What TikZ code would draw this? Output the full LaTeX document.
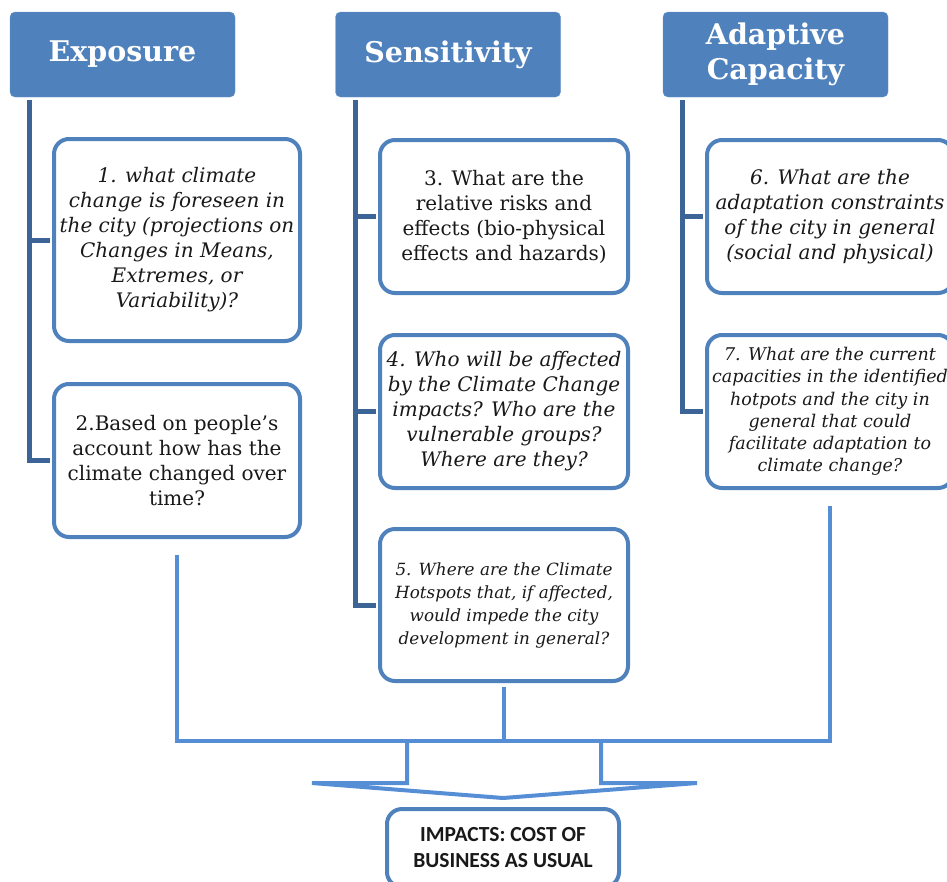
\documentclass[tikz,border=0pt]{standalone}
\usepackage{fontspec}
\setmainfont{DejaVu Serif}
\newfontfamily\impactfont{Carlito}
\usetikzlibrary{calc}
\definecolor{headblue}{RGB}{79,129,189}
\definecolor{trunkblue}{RGB}{60,100,150}
\definecolor{feedblue}{RGB}{85,142,213}

\begin{document}
\begin{tikzpicture}[x=1pt, y=-1pt,
    head/.style={rectangle, rounded corners=5pt, fill=headblue, draw=headblue!85!white, minimum width=225pt, minimum height=85pt, inner sep=0pt, align=center, text=white, font=\fontsize{28.5}{35}\selectfont\bfseries},
    quest/.style={rectangle, rounded corners=15pt, draw=headblue, line width=4pt, fill=white, minimum width=246pt, minimum height=153pt, inner sep=0pt, align=center, text=black!90, font=\fontsize{20}{25}\selectfont},
    trunk/.style={draw=trunkblue, line width=5pt, shorten >=2pt},
    feed/.style={draw=feedblue, line width=4pt}]
  \useasboundingbox (0,0) rectangle (947,881);

  % Headers
  \node[head] at (122.5, 54.5) (expo) {Exposure};
  \node[head] at (448, 54.5) (sens) {Sensitivity};
  \node[head] at (775.5, 54.5) (adapt) {Adaptive\\Capacity};

  % Questions
  \node[quest, minimum height=202pt, font=\fontsize{20}{25}\selectfont\itshape] at (177, 240) (q1) {1. what climate\\change is foreseen in\\the city (projections on\\Changes in Means,\\Extremes, or\\Variability)?};
  \node[quest] at (177, 460.5) (q2) {2.Based on people's\\account how has the\\climate changed over\\time?};
  \node[quest, minimum width=248pt] at (504, 216.5) (q3) {3. What are the\\relative risks and\\effects (bio-physical\\effects and hazards)};
  \node[quest, minimum width=248pt, font=\fontsize{20}{25}\selectfont\itshape] at (504, 411.5) (q4) {4. Who will be affected\\by the Climate Change\\impacts? Who are the\\vulnerable groups?\\Where are they?};
  \node[quest, minimum width=248pt, minimum height=152pt, font=\fontsize{16.8}{23}\selectfont\itshape] at (504, 605) (q5) {5. Where are the Climate\\Hotspots that, if affected,\\would impede the city\\development in general?};
  \node[quest, font=\fontsize{20}{25}\selectfont\itshape] at (830, 216.5) (q6) {6. What are the\\adaptation constraints\\of the city in general\\(social and physical)};
  \node[quest, font=\fontsize{17.5}{22.2}\selectfont\itshape] at (830, 411.5) (q7) {7. What are the current\\capacities in the identified\\hotpots and the city in\\general that could\\facilitate adaptation to\\climate change?};

  \node[quest, minimum width=232pt, minimum height=78pt, font=\impactfont\fontsize{21.5}{26}\selectfont\bfseries] at (503, 848) (impact) {IMPACTS: COST OF\\BUSINESS AS USUAL};

  % Trunks
  \draw[trunk] ($(expo.south west)+(20,3)$) |- (q1.west);
  \draw[trunk] ($(expo.south west)+(20,3)$) |- (q2.west);
  \draw[trunk] ($(sens.south west)+(20,3)$) |- (q3.west);
  \draw[trunk] ($(sens.south west)+(20,3)$) |- (q4.west);
  \draw[trunk] ($(sens.south west)+(20,3)$) |- (q5.west);
  \draw[trunk] ($(adapt.south west)+(20,3)$) |- (q6.west);
  \draw[trunk] ($(adapt.south west)+(20,3)$) |- (q7.west);

  % Feed into impacts
  \coordinate (bar) at (504, 741);
  \draw[feed] ([yshift=-16pt]q2.south) |- (bar) -| ([yshift=-16pt]q7.south);
  \draw[feed] ([yshift=-4pt]q5.south) -- (bar);
  \draw[feed] ($(bar)+(-97,0)$) |- ($(impact.north)+(-191,-24)$) -- ([yshift=9pt]impact.north)
    -- ($(impact.north)+(194,-24)$) -| ($(bar)+(97,0)$);
\end{tikzpicture}
\end{document}
